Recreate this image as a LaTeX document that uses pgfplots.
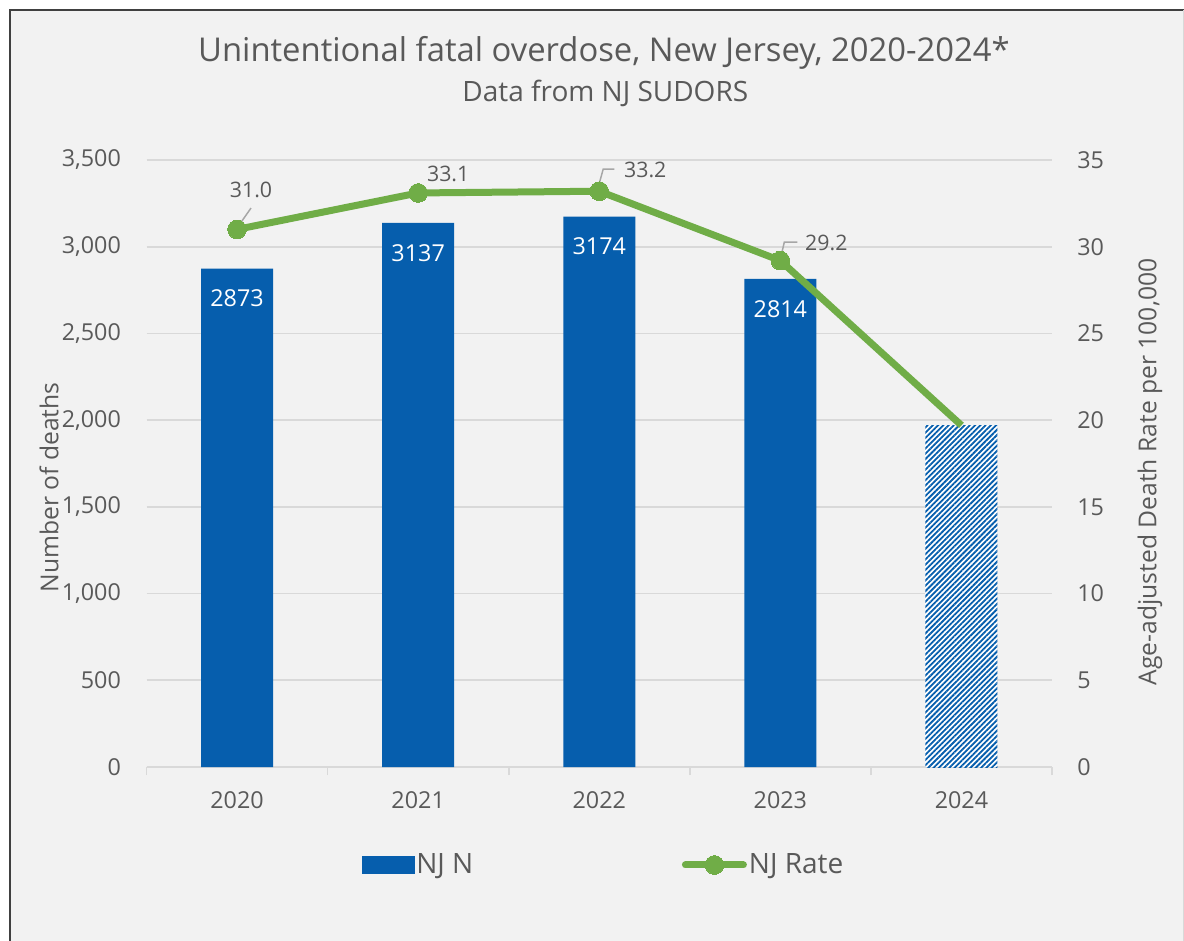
\documentclass[border=0pt]{standalone}
\usepackage{pgfplots}
\pgfplotsset{compat=1.18}
\usepackage{fontspec}
\setmainfont{Open Sans}
\usetikzlibrary{patterns.meta}
\definecolor{njblue}{RGB}{6,94,173}
\definecolor{njgreen}{RGB}{112,173,71}
\definecolor{txt}{RGB}{89,89,89}
\definecolor{gridc}{RGB}{217,217,217}
\definecolor{bgc}{RGB}{242,242,242}
\definecolor{leadc}{RGB}{166,166,166}
\begin{document}
\begin{tikzpicture}
\useasboundingbox (0,0) rectangle (888pt,-705.75pt);
\fill[white] (0,0) rectangle (888pt,-705.75pt);
\fill[bgc] (7.5pt,-7.5pt) rectangle (888pt,-705.75pt);
\draw[black!75, line width=1.5pt] (7.5pt,-720pt) -- (7.5pt,-7.5pt) -- (900pt,-7.5pt);
\draw[gridc, line width=0.75pt] (887.4pt,-7.5pt) -- (887.4pt,-720pt);
\node[anchor=base, inner sep=0pt, text=txt, font=\fontsize{24.6}{28}\selectfont] at (453pt,-46.3pt) {Unintentional fatal overdose, New Jersey, 2020-2024*};
\node[anchor=base, inner sep=0pt, text=txt, font=\fontsize{21}{24}\selectfont] at (454pt,-76.3pt) {Data from NJ SUDORS};

\begin{axis}[
  at={(109.875pt,-575.25pt)}, anchor=south west,
  scale only axis, width=679.125pt, height=455.25pt,
  xmin=-0.5, xmax=4.5, ymin=0, ymax=3500,
  xtick={0,1,2,3,4}, xticklabels={2020,2021,2022,2023,2024},
  ytick={0,500,...,3500},
  scaled y ticks=false,
  /pgf/number format/.cd, 1000 sep={,}, assume math mode=true, /pgfplots/.cd,
  axis x line*=bottom, axis y line*=left,
  y axis line style={draw=none},
  x axis line style={draw=gridc, line width=1.2pt},
  major tick length=0pt,
  tick style={gridc, line width=1.2pt},
  extra x ticks={-0.5,0.5,1.5,2.5,3.5,4.5}, extra x tick labels={},
  extra x tick style={major tick length=6pt, tick align=outside},
  ymajorgrids, grid style={gridc, line width=1.2pt},
  tick label style={font=\fontsize{17.5}{20}\selectfont, text=txt},
  yticklabel style={inner sep=0pt, xshift=-19pt},
  xticklabel style={inner sep=0pt, yshift=-18.4pt},
  ylabel={Number of deaths},
  every axis y label/.style={at={(axis description cs:-0.1077,0.4605)}, rotate=90, anchor=center, font=\fontsize{18.5}{21}\selectfont, text=txt},
  clip=false,
]
\addplot[ybar, bar width=54pt, bar shift=0pt, fill=njblue, draw=none,
  nodes near coords={\pgfmathprintnumber[1000 sep={}]{\pgfplotspointmeta}},
  nodes near coords style={anchor=north, inner sep=0pt, yshift=-15.75pt, text=white, font=\fontsize{17.5}{20}\selectfont}]
  coordinates {(0,2873) (1,3137) (2,3174) (3,2814)};
\addplot[ybar, bar width=54pt, bar shift=0pt, draw=none, fill=white,
  postaction={pattern={Lines[angle=45, distance=2.8pt, line width=1.35pt]}, pattern color=njblue}]
  coordinates {(4,1972)};
\end{axis}

\begin{axis}[
  at={(109.875pt,-575.25pt)}, anchor=south west,
  scale only axis, width=679.125pt, height=455.25pt,
  xmin=-0.5, xmax=4.5, ymin=0, ymax=35,
  axis x line=none, axis y line*=right,
  y axis line style={draw=none},
  ytick={0,5,...,35},
  major tick length=0pt,
  /pgf/number format/assume math mode=true,
  tick label style={font=\fontsize{17.5}{20}\selectfont, text=txt},
  yticklabel style={inner sep=0pt, xshift=18.75pt},
  ylabel={Age-adjusted Death Rate per 100,000},
  every axis y label/.style={at={(axis description cs:1.1082,0.486)}, rotate=90, anchor=center, font=\fontsize{18.5}{21}\selectfont, text=txt},
  clip=false,
  legend columns=2,
  legend style={at={(axis description cs:0.5047,-0.1614)}, anchor=center, draw=none, fill=none, inner sep=0pt,
    font=\fontsize{21}{24}\selectfont, text=txt, nodes={inner sep=1.5pt}},
]
\addlegendimage{legend image code/.code={\fill[njblue] (0pt,-6.4pt) rectangle (39pt,6.4pt);}}
\addlegendentry{NJ N\hspace*{155pt}}
\addplot[njgreen, line width=5.25pt, line join=round, mark=*, mark indices={1,2,3,4}, mark size=7pt,
  mark options={fill=njgreen, draw=njgreen, line width=0pt},
  legend image code/.code={\draw[njgreen, line width=5.25pt, line cap=round, mark=*, mark indices={2}, mark size=7pt, mark options={fill=njgreen, draw=njgreen, line width=0pt}] plot coordinates {(0pt,0pt) (21.75pt,0pt) (43.5pt,0pt)};}]
  coordinates {(0,31.0) (1,33.1) (2,33.2) (3,29.2) (4,19.7)};
\addlegendentry{NJ Rate}
\draw[leadc, line width=1.1pt] (axis cs:0.077,32.23) -- (axis cs:0,31.08);
\draw[leadc, line width=1.1pt] (axis cs:1.99,33.27) -- (axis cs:2.022,34.48) -- (axis cs:2.083,34.48);
\draw[leadc, line width=1.1pt] (axis cs:3,29.29) -- (axis cs:3.022,30.27) -- (axis cs:3.094,30.27);
\node[inner sep=0pt, text=txt, font=\fontsize{16}{18}\selectfont] at (axis cs:0.077,33.27) {31.0};
\node[inner sep=0pt, text=txt, font=\fontsize{16}{18}\selectfont] at (axis cs:1.166,34.19) {33.1};
\node[inner sep=0pt, text=txt, font=\fontsize{16}{18}\selectfont] at (axis cs:2.254,34.42) {33.2};
\node[inner sep=0pt, text=txt, font=\fontsize{16}{18}\selectfont] at (axis cs:3.254,30.21) {29.2};
\end{axis}
\end{tikzpicture}
\end{document}
